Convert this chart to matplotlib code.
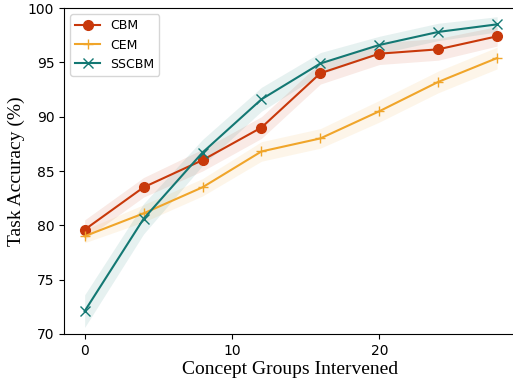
import numpy as np
import matplotlib
matplotlib.use("Agg")
import matplotlib.pyplot as plt

# intervention steps
groups = [0, 4, 8, 12, 16, 20, 24, 28]

# mean task accuracy (%)
cbm = [79.6, 83.5, 86.0, 89.0, 94.0, 95.8, 96.2, 97.4]
cem = [79.0, 81.1, 83.5, 86.8, 88.0, 90.5, 93.2, 95.4]
sscbm = [72.1, 80.6, 86.7, 91.6, 94.9, 96.6, 97.8, 98.5]

# spread shown as shaded bands
cbm_std = [0.9, 0.9, 1.0, 1.0, 1.0, 1.0, 1.0, 0.9]
cem_std = [0.6, 0.8, 0.8, 0.9, 0.9, 1.0, 1.0, 1.0]
sscbm_std = [1.5, 1.4, 1.2, 1.1, 1.0, 0.8, 0.8, 0.7]

fig = plt.figure(figsize=(5.13, 3.83), dpi=100)
# right spine falls just outside the canvas, as in the cropped original
ax = fig.add_axes([0.1248, 0.128, 0.9, 0.851])

series = [
    ("CBM", cbm, cbm_std, "#c8380a", "o"),
    ("CEM", cem, cem_std, "#f0a52a", "+"),
    ("SSCBM", sscbm, sscbm_std, "#137873", "x"),
]
for name, vals, sd, col, mk in series:
    v = np.array(vals)
    s = np.array(sd)
    ax.plot(groups, v, color=col, marker=mk, markersize=7, linewidth=1.5, label=name)
    ax.fill_between(groups, v - s, v + s, color=col, alpha=0.1, linewidth=0)

ax.set_ylim(70, 100)
ax.set_xlim(-1.4, 29.94)
ax.set_xticks([0, 10, 20])
ax.set_yticks([70, 75, 80, 85, 90, 95, 100])
ax.tick_params(labelsize=10)
ax.set_xlabel("Concept Groups Intervened", fontsize=14, family="Liberation Serif")
ax.xaxis.set_label_coords(0.49, -0.083, transform=ax.transAxes)
ax.set_ylabel("Task Accuracy (%)", fontsize=14, family="Liberation Serif", labelpad=2)
ax.legend(loc="upper left", fontsize=9)

fig.savefig("out.png", dpi=100)
